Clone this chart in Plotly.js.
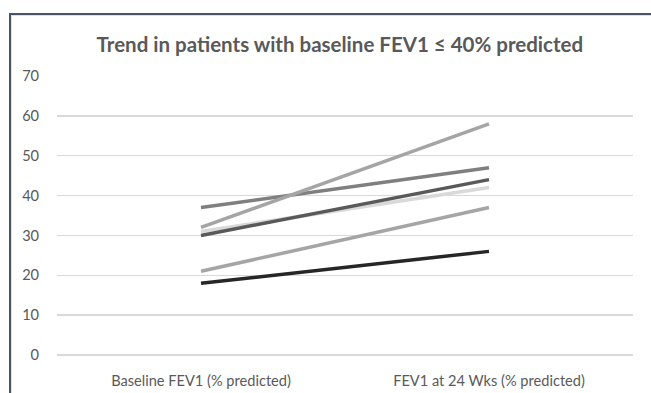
<!DOCTYPE html>
<html>
<head>
<meta charset="utf-8">
<script src="https://cdn.plot.ly/plotly-3.0.1.min.js"></script>
<style>
html,body{margin:0;padding:0;background:#fff;}
#wrap{position:relative;width:651px;height:393px;}
#chart{width:651px;height:393px;}
#frame{position:absolute;left:9px;top:13px;right:-5px;bottom:-5px;border-left:2px solid #4a5563;border-top:2px solid #4a5563;pointer-events:none;}
#frame2{position:absolute;left:11px;top:15px;right:-5px;bottom:-5px;border-left:1px solid #dcdfe3;border-top:1px solid #dcdfe3;pointer-events:none;}
</style>
</head>
<body>
<div id="wrap">
<div id="chart"></div>
<div id="frame"></div>
<div id="frame2"></div>
</div>
<script>
var categories = ["Baseline FEV1 (% predicted)", "FEV1 at 24 Wks (% predicted)"];
var patientA = [37, 47];
var patientB = [32, 58];
var patientC = [31, 42];
var patientD = [30, 44];
var patientE = [21, 37];
var patientF = [18, 26];
var seriesValues = [patientA, patientB, patientC, patientD, patientE, patientF];
var seriesColors = ["#7f7f7f", "#a5a5a5", "#d9d9d9", "#595959", "#a5a5a5", "#262626"];
var yTicks = [0, 10, 20, 30, 40, 50, 60, 70];

var traces = seriesValues.map(function(v, i){
  return {x: categories, y: v, type: 'scatter', mode: 'lines',
    line: {color: seriesColors[i], width: 3.5}, hoverinfo: 'none'};
});

var font = {family: 'Lato, "Open Sans", sans-serif', color: '#595959', size: 14.6};
var layout = {
  width: 651, height: 393,
  margin: {l: 57, r: 18, t: 76, b: 38},
  paper_bgcolor: '#fff', plot_bgcolor: '#fff',
  showlegend: false,
  font: font,
  title: {text: '<b>Trend in patients with baseline FEV1 ≤ 40% predicted</b>',
    font: {family: 'Lato, "Open Sans", sans-serif', size: 20.5, color: '#595959'},
    x: 0.522, xanchor: 'center', y: 0.885, yanchor: 'middle'},
  xaxis: {type: 'category', range: [-0.5, 1.5], showgrid: false, zeroline: false,
    showline: false, ticks: 'outside', ticklen: 12, tickcolor: 'rgba(0,0,0,0)',
    tickfont: font, fixedrange: true},
  yaxis: {range: [0, 70], tickvals: yTicks, ticktext: yTicks.map(String),
    showgrid: true, gridcolor: '#d9d9d9', gridwidth: 1.3,
    zeroline: true, zerolinecolor: '#d9d9d9', zerolinewidth: 1.3,
    showline: false, ticks: 'outside', ticklen: 14, tickcolor: 'rgba(0,0,0,0)',
    tickfont: font, fixedrange: true}
};
Plotly.newPlot('chart', traces, layout, {displayModeBar: false, staticPlot: true});
</script>
</body>
</html>
